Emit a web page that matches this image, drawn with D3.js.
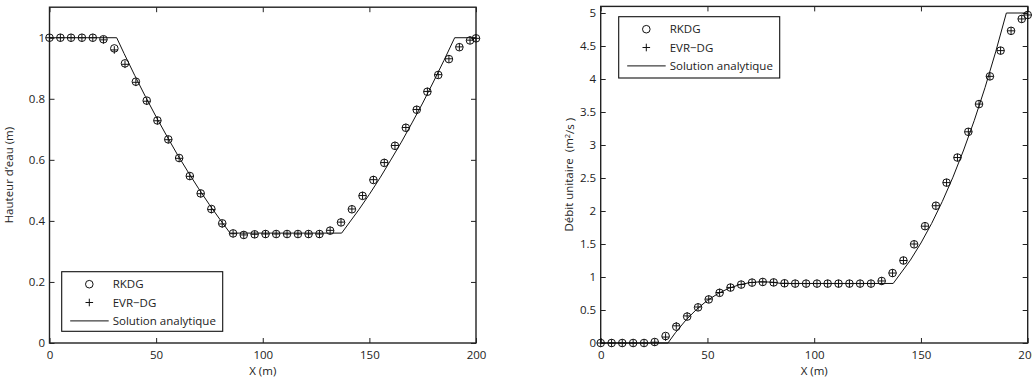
<!DOCTYPE html>
<html>
<head>
<meta charset="utf-8">
<script src="https://cdn.jsdelivr.net/npm/d3@7"></script>
<style>
  html, body { margin: 0; padding: 0; background: #fff; }
  svg { display: block; }
  text { font-family: "Open Sans", "Noto Sans", sans-serif; fill: #222; }
</style>
</head>
<body>
<svg id="chart" width="1032" height="381"></svg>
<script>
// ---------- data ----------
const xPoints = [0, 5.1, 10.1, 15.2, 20.3, 25.3, 30.4, 35.4, 40.5, 45.6, 50.6, 55.7, 60.8, 65.8, 70.9, 75.9, 81.0, 86.1, 91.1, 96.2, 101.3, 106.3, 111.4, 116.5, 121.5, 126.6, 131.6, 136.7, 141.8, 146.8, 151.9, 157.0, 162.0, 167.1, 172.2, 177.2, 182.3, 187.3, 192.2, 197.2, 200];

const hRKDG = [1.0, 1.0, 1.0, 1.0, 1.0, 0.995, 0.965, 0.916, 0.856, 0.794, 0.729, 0.667, 0.606, 0.547, 0.490, 0.439, 0.392, 0.359, 0.354, 0.356, 0.357, 0.357, 0.357, 0.357, 0.357, 0.357, 0.368, 0.395, 0.438, 0.482, 0.534, 0.590, 0.646, 0.705, 0.764, 0.823, 0.878, 0.930, 0.969, 0.991, 0.998];
const hEVR  = [1.0, 1.0, 1.0, 1.0, 1.0, 0.993, 0.960, 0.913, 0.854, 0.792, 0.728, 0.666, 0.605, 0.546, 0.489, 0.437, 0.390, 0.358, 0.354, 0.356, 0.357, 0.357, 0.357, 0.357, 0.357, 0.357, 0.369, 0.396, 0.439, 0.483, 0.535, 0.591, 0.647, 0.706, 0.765, 0.824, 0.879, 0.931, 0.970, 0.992, 0.998];

const qRKDG = [0, 0, 0, 0, 0, 0.015, 0.106, 0.247, 0.40, 0.54, 0.66, 0.76, 0.84, 0.885, 0.915, 0.925, 0.918, 0.905, 0.90, 0.90, 0.90, 0.90, 0.90, 0.90, 0.90, 0.90, 0.94, 1.06, 1.25, 1.495, 1.77, 2.08, 2.43, 2.81, 3.20, 3.62, 4.04, 4.43, 4.73, 4.91, 4.97];
const qEVR  = [0, 0, 0, 0, 0, 0.012, 0.09, 0.26, 0.41, 0.545, 0.665, 0.765, 0.842, 0.887, 0.916, 0.925, 0.918, 0.905, 0.90, 0.90, 0.90, 0.90, 0.90, 0.90, 0.90, 0.90, 0.94, 1.06, 1.25, 1.50, 1.77, 2.08, 2.43, 2.81, 3.20, 3.62, 4.04, 4.43, 4.73, 4.91, 4.97];

// analytical solution
const xExact = [0, 31.5, 35, 40, 45, 50, 55, 60, 65, 70, 75, 80, 84.7, 137, 145, 150, 155, 160, 165, 170, 175, 180, 185, 190, 200];
const hExact = [1, 1, 0.948, 0.876, 0.807, 0.741, 0.678, 0.617, 0.560, 0.505, 0.453, 0.404, 0.36, 0.36, 0.436, 0.487, 0.541, 0.599, 0.658, 0.721, 0.786, 0.855, 0.926, 1, 1];
const qExact = [0, 0, 0.156, 0.351, 0.513, 0.646, 0.750, 0.829, 0.883, 0.916, 0.928, 0.922, 0.902, 0.902, 1.253, 1.515, 1.811, 2.144, 2.513, 2.924, 3.374, 3.869, 4.411, 5.0, 5.0];

const xTicks = [0, 50, 100, 150, 200];
const hTicks = [0, 0.2, 0.4, 0.6, 0.8, 1];
const qTicks = [0, 0.5, 1, 1.5, 2, 2.5, 3, 3.5, 4, 4.5, 5];
const legendLabels = ["RKDG", "EVR\u2212DG", "Solution analytique"];

// ---------- drawing ----------
const svg = d3.select("#chart");
const FS = 11.5;
const ink = "#111";

function panel(cfg) {
  const x = d3.scaleLinear().domain([0, 200]).range([cfg.left, cfg.right]);
  const y = d3.scaleLinear().domain(cfg.yDomain).range([cfg.bottom, cfg.top]);
  const g = svg.append("g");
  const tl = 5;

  // frame
  g.append("rect").attr("x", cfg.left).attr("y", cfg.top)
    .attr("width", cfg.right - cfg.left).attr("height", cfg.bottom - cfg.top)
    .attr("fill", "none").attr("stroke", "#222").attr("stroke-width", 1.4);

  // axes via d3 (inward ticks)
  const fmt = d3.format("~g");
  const ax = g.append("g").attr("transform", `translate(0,${cfg.bottom})`)
    .call(d3.axisBottom(x).tickValues(xTicks).tickSize(-tl).tickPadding(8).tickFormat(fmt));
  const axTop = g.append("g").attr("transform", `translate(0,${cfg.top})`)
    .call(d3.axisTop(x).tickValues(xTicks).tickSize(-tl).tickFormat(""));
  const ay = g.append("g").attr("transform", `translate(${cfg.left},0)`)
    .call(d3.axisLeft(y).tickValues(cfg.yTicks).tickSize(-tl).tickPadding(4.5).tickFormat(fmt));
  const ayR = g.append("g").attr("transform", `translate(${cfg.right},0)`)
    .call(d3.axisRight(y).tickValues(cfg.yTicks).tickSize(-tl).tickFormat(""));
  [ax, axTop, ay, ayR].forEach(a => {
    a.select(".domain").remove();
    a.selectAll(".tick line").attr("stroke", "#222").attr("stroke-width", 1);
    a.selectAll("text").attr("fill", "#222").style("font-size", FS + "px")
      .style("font-family", '"Open Sans", sans-serif');
  });

  // analytical line
  const line = d3.line().x(d => x(d[0])).y(d => y(d[1]));
  g.append("path").datum(xExact.map((v, i) => [v, cfg.exact[i]]))
    .attr("d", line).attr("fill", "none").attr("stroke", ink).attr("stroke-width", 1);

  // RKDG circles
  g.append("g").selectAll("circle").data(xPoints.map((v, i) => [v, cfg.rk[i]]))
    .join("circle").attr("cx", d => x(d[0])).attr("cy", d => y(d[1])).attr("r", 3.8)
    .attr("fill", "none").attr("stroke", ink).attr("stroke-width", 1);

  // EVR-DG plus
  const s = 3.8;
  g.append("g").selectAll("path").data(xPoints.map((v, i) => [v, cfg.evr[i]]))
    .join("path")
    .attr("d", d => { const px = x(d[0]), py = y(d[1]);
      return `M${px - s},${py}H${px + s}M${px},${py - s}V${py + s}`; })
    .attr("stroke", ink).attr("stroke-width", 1).attr("fill", "none");

  // x label
  g.append("text").attr("x", (cfg.left + cfg.right) / 2).attr("y", 374.5)
    .attr("text-anchor", "middle").style("font-size", FS + "px").text("X (m)");

  // y label
  const yl = g.append("text")
    .attr("transform", `translate(${cfg.ylabelX},${(cfg.top + cfg.bottom) / 2}) rotate(-90)`)
    .attr("text-anchor", "middle").style("font-size", FS + "px").style("white-space", "pre");
  cfg.ylabel(yl);

  // legend
  const L = cfg.legend;
  const lg = g.append("g");
  lg.append("rect").attr("x", L.x).attr("y", L.y).attr("width", L.w).attr("height", L.h)
    .attr("fill", "#fff").attr("stroke", "#111").attr("stroke-width", 1.1);
  const rows = [L.y + 12.5, L.y + 30.8, L.y + 49.2];
  const mx = L.x + 27.6;
  lg.append("circle").attr("cx", mx).attr("cy", rows[0]).attr("r", 3.8)
    .attr("fill", "none").attr("stroke", ink);
  lg.append("path").attr("d", `M${mx - s},${rows[1]}H${mx + s}M${mx},${rows[1] - s}V${rows[1] + s}`)
    .attr("stroke", ink);
  lg.append("line").attr("x1", L.x + 8.5).attr("x2", L.x + 47).attr("y1", rows[2]).attr("y2", rows[2])
    .attr("stroke", ink);
  legendLabels.forEach((t, i) => {
    lg.append("text").attr("x", L.x + 51).attr("y", rows[i]).attr("dy", "0.35em")
      .style("font-size", FS + "px").text(t);
  });
}

panel({
  left: 49.5, right: 476, top: 7.2, bottom: 343,
  yDomain: [0, 1.1], yTicks: hTicks,
  rk: hRKDG, evr: hEVR, exact: hExact,
  ylabelX: 13,
  ylabel: t => t.text("Hauteur d\u2019eau (m)"),
  legend: { x: 61.7, y: 271.7, w: 161, h: 59.6 }
});

panel({
  left: 600.7, right: 1027.7, top: 6.4, bottom: 343,
  yDomain: [0, 5.1], yTicks: qTicks,
  rk: qRKDG, evr: qEVR, exact: qExact,
  ylabelX: 572.5,
  ylabel: t => {
    t.append("tspan").text("D\u00e9bit unitaire  (m");
    t.append("tspan").attr("dy", "-0.4em").style("font-size", "7.5px").text("2");
    t.append("tspan").attr("dy", "0.4em").text("/s )");
  },
  legend: { x: 618.7, y: 16.7, w: 161, h: 61.3 }
});
</script>
</body>
</html>
